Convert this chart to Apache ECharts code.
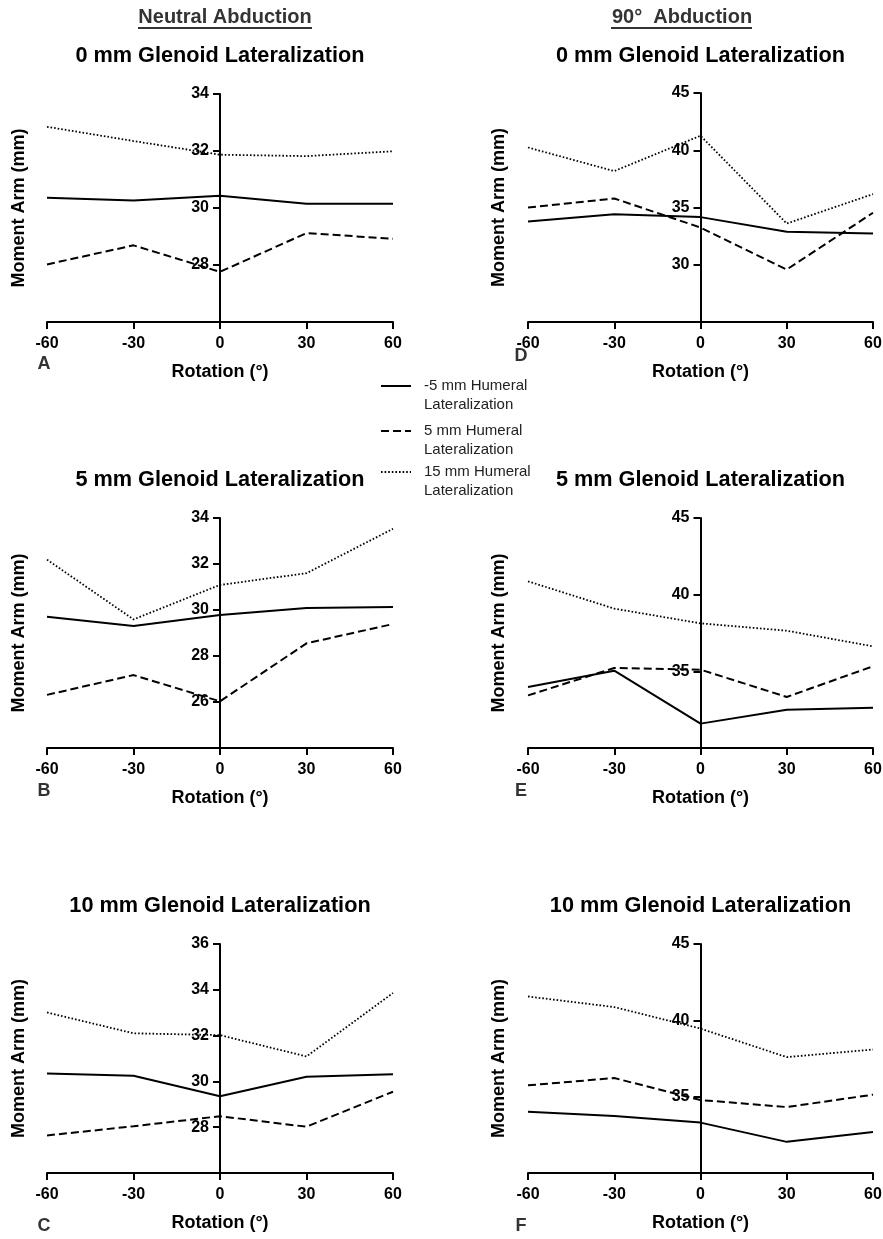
<!DOCTYPE html>
<html>
<head>
<meta charset="utf-8">
<script src="https://cdn.jsdelivr.net/npm/echarts@6/dist/echarts.min.js"></script>
<style>
html,body{margin:0;padding:0;background:#fff;}
#chart{width:883px;height:1239px;}
</style>
</head>
<body>
<div id="chart"></div>
<script>
// ---- data ----
const rotation = [-60, -30, 0, 30, 60];
const seriesNames = ['-5 mm Humeral Lateralization', '5 mm Humeral Lateralization', '15 mm Humeral Lateralization'];
const panelTitles = ['0 mm Glenoid Lateralization', '5 mm Glenoid Lateralization', '10 mm Glenoid Lateralization'];
const columnHeaders = ['Neutral Abduction', '90°  Abduction'];
const panelLetters = ['A', 'B', 'C', 'D', 'E', 'F'];

// Neutral abduction
const A_m5 = [30.36, 30.26, 30.43, 30.15, 30.15];
const A_5  = [28.02, 28.69, 27.76, 29.12, 28.92];
const A_15 = [32.85, 32.35, 31.87, 31.82, 31.99];
const B_m5 = [29.71, 29.30, 29.78, 30.09, 30.13];
const B_5  = [26.31, 27.17, 26.03, 28.55, 29.39];
const B_15 = [32.19, 29.59, 31.09, 31.60, 33.53];
const C_m5 = [30.34, 30.25, 29.35, 30.20, 30.31];
const C_5  = [27.64, 28.04, 28.48, 28.02, 29.55];
const C_15 = [33.01, 32.10, 32.02, 31.09, 33.86];
// 90° abduction
const D_m5 = [33.78, 34.42, 34.16, 32.88, 32.73];
const D_5  = [35.00, 35.79, 33.25, 29.58, 34.54];
const D_15 = [40.24, 38.18, 41.27, 33.60, 36.17];
const E_m5 = [33.98, 35.04, 31.59, 32.50, 32.63];
const E_5  = [33.43, 35.22, 35.11, 33.33, 35.33];
const E_15 = [40.87, 39.09, 38.13, 37.65, 36.63];
const F_m5 = [34.02, 33.73, 33.30, 32.04, 32.69];
const F_5  = [35.74, 36.22, 34.78, 34.32, 35.13];
const F_15 = [41.56, 40.87, 39.46, 37.59, 38.09];

// y-axis scales per panel: [min, max, interval]
const yScaleA = [26, 34, 2];
const yScaleB = [24, 34, 2];
const yScaleC = [26, 36, 2];
const yScaleD = [25, 45, 5];
const yScaleE = [30, 45, 5];
const yScaleF = [30, 45, 5];

// ---- layout ----
const FONT = '"Liberation Sans", Arial, Helvetica, sans-serif';
const panels = [
  {letter: 'A', title: panelTitles[0], grid: {left: 47, top: 94, width: 346, height: 228}, y: yScaleA, data: [A_m5, A_5, A_15], titleY: 56, letterY: 364},
  {letter: 'B', title: panelTitles[1], grid: {left: 47, top: 518, width: 346, height: 230}, y: yScaleB, data: [B_m5, B_5, B_15], titleY: 480, letterY: 791},
  {letter: 'C', title: panelTitles[2], grid: {left: 47, top: 944, width: 346, height: 229}, y: yScaleC, data: [C_m5, C_5, C_15], titleY: 906, letterY: 1226},
  {letter: 'D', title: panelTitles[0], grid: {left: 528, top: 93, width: 345, height: 229}, y: yScaleD, data: [D_m5, D_5, D_15], titleY: 56, letterY: 356},
  {letter: 'E', title: panelTitles[1], grid: {left: 528, top: 518, width: 345, height: 230}, y: yScaleE, data: [E_m5, E_5, E_15], titleY: 480, letterY: 791},
  {letter: 'F', title: panelTitles[2], grid: {left: 528, top: 944, width: 345, height: 229}, y: yScaleF, data: [F_m5, F_5, F_15], titleY: 906, letterY: 1226}
];

const lineStyles = [
  {type: 'solid', width: 2},
  {type: [8, 4], width: 2},
  {type: [1.6, 2], width: 1.8}
];

const grids = [], xAxes = [], yAxes = [], series = [], graphics = [];
panels.forEach((p, i) => {
  grids.push(Object.assign({containLabel: false, outerBoundsMode: 'none'}, p.grid));
  xAxes.push({
    type: 'value', gridIndex: i, min: -60, max: 60, interval: 30,
    name: 'Rotation (°)', nameLocation: 'middle', nameGap: 41,
    nameTextStyle: {fontFamily: FONT, fontWeight: 'bold', fontSize: 18, color: '#000'},
    axisLine: {show: true, onZero: false, lineStyle: {color: '#000', width: 2}},
    axisTick: {show: true, length: 7, lineStyle: {color: '#000', width: 2}},
    axisLabel: {fontFamily: FONT, fontWeight: 'bold', fontSize: 16, color: '#000', margin: 14},
    splitLine: {show: false}
  });
  // y axis drawn at rotation = 0 (centre of the x range)
  yAxes.push({
    type: 'value', gridIndex: i, min: p.y[0], max: p.y[1], interval: p.y[2],
    position: 'left', offset: -p.grid.width / 2,
    name: 'Moment Arm (mm)', nameLocation: 'middle', nameGap: 192,
    nameTextStyle: {fontFamily: FONT, fontWeight: 'bold', fontSize: 18, color: '#000'},
    axisLine: {show: true, onZero: false, lineStyle: {color: '#000', width: 2}},
    axisTick: {show: true, length: 7, lineStyle: {color: '#000', width: 2}},
    axisLabel: {fontFamily: FONT, fontWeight: 'bold', fontSize: 16, color: '#000', margin: 11, showMinLabel: false},
    splitLine: {show: false}
  });
  p.data.forEach((vals, k) => {
    series.push({
      type: 'line', name: seriesNames[k], xAxisIndex: i, yAxisIndex: i,
      data: rotation.map((r, j) => [r, vals[j]]),
      symbol: 'none', smooth: false, silent: true, animation: false,
      lineStyle: Object.assign({color: '#000'}, lineStyles[k]),
      itemStyle: {color: '#000'}
    });
  });
  const cx = p.grid.left + p.grid.width / 2;
  graphics.push({
    type: 'text', x: cx, y: p.titleY,
    style: {text: p.title, fontFamily: FONT, fontWeight: 'bold', fontSize: 21.7, fill: '#000', align: 'center', verticalAlign: 'middle'}
  });
  graphics.push({
    type: 'text', x: i < 3 ? 44 : 521, y: p.letterY,
    style: {text: p.letter, fontFamily: FONT, fontWeight: 'bold', fontSize: 18, fill: '#333', align: 'center', verticalAlign: 'middle'}
  });
});

// column headers with underline
graphics.push({type: 'text', x: 225, y: 17, style: {text: columnHeaders[0], fontFamily: FONT, fontWeight: 'bold', fontSize: 20, fill: '#333', align: 'center', verticalAlign: 'middle'}});
graphics.push({type: 'text', x: 682, y: 17, style: {text: columnHeaders[1], fontFamily: FONT, fontWeight: 'bold', fontSize: 20, fill: '#333', align: 'center', verticalAlign: 'middle'}});
graphics.push({type: 'line', shape: {x1: 138, y1: 28, x2: 312, y2: 28}, style: {stroke: '#333', lineWidth: 2}});
graphics.push({type: 'line', shape: {x1: 611, y1: 28, x2: 752, y2: 28}, style: {stroke: '#333', lineWidth: 2}});

// legends (one per entry; an empty first line puts the icon beside the first text line)
const legendCenters = [386, 431, 472];
const legends = seriesNames.map((nm, k) => ({
  data: [nm], orient: 'vertical', left: 380, top: legendCenters[k] - 28.5, padding: 0,
  itemWidth: 30, itemHeight: 14, selectedMode: false,
  itemStyle: {opacity: 0},
  formatter: n => '\n' + n.replace(' Lateralization', '\nLateralization'),
  textStyle: {fontFamily: FONT, fontSize: 15, color: '#222', lineHeight: 19, padding: [0, 0, 0, 8]}
}));

const chart = echarts.init(document.getElementById('chart'), null, {renderer: 'canvas'});
chart.setOption({
  backgroundColor: '#fff',
  animation: false,
  grid: grids, xAxis: xAxes, yAxis: yAxes, series: series,
  legend: legends,
  graphic: graphics
});
</script>
</body>
</html>
